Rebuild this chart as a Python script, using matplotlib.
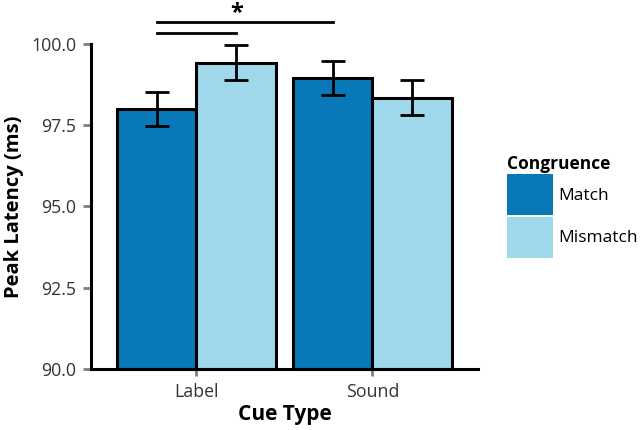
import matplotlib.pyplot as plt
import numpy as np
from matplotlib.patches import Patch

# data
cue_types = ["Label", "Sound"]
match_mean = [98.0, 98.95]
mismatch_mean = [99.42, 98.34]
match_err = [0.52, 0.52]
mismatch_err = [0.54, 0.54]
y_floor = 90.0

plt.rcParams['font.family'] = ['Open Sans', 'DejaVu Sans']

colors = {'Match': '#0878b8', 'Mismatch': '#9ed8ea'}
width = 0.45

fig = plt.figure(figsize=(6.4, 4.3), dpi=100)
ax = fig.add_axes([0.142, 0.142, 0.605, 0.756])

x = np.arange(len(cue_types))
ax.bar(x - width / 2, np.array(match_mean) - y_floor, width, bottom=y_floor,
       color=colors['Match'], edgecolor='black', linewidth=2.2, zorder=2)
ax.bar(x + width / 2, np.array(mismatch_mean) - y_floor, width, bottom=y_floor,
       color=colors['Mismatch'], edgecolor='black', linewidth=2.2, zorder=2)
ax.errorbar(x - width / 2, match_mean, yerr=match_err, fmt='none',
            ecolor='black', elinewidth=2, capsize=8.5, capthick=2, zorder=3)
ax.errorbar(x + width / 2, mismatch_mean, yerr=mismatch_err, fmt='none',
            ecolor='black', elinewidth=2, capsize=8.5, capthick=2, zorder=3)

# significance markers
ax.plot([x[0] - width / 2, x[1] - width / 2], [100.68, 100.68], color='black',
        lw=2, clip_on=False)
ax.plot([x[0] - width / 2, x[0] + width / 2], [100.34, 100.34], color='black',
        lw=2, clip_on=False)
ax.text(0.23, 100.58, '*', ha='center', va='bottom', fontsize=17,
        fontweight='bold')

ax.set_ylim(90, 100)
ax.set_xlim(-0.6, 1.6)
ax.set_yticks([90.0, 92.5, 95.0, 97.5, 100.0])
ax.set_yticklabels(['90.0', '92.5', '95.0', '97.5', '100.0'])
ax.set_xticks(x)
ax.set_xticklabels(cue_types)
ax.tick_params(axis='both', colors='#7f7f7f', width=2, length=5.5,
               labelsize=12.8, labelcolor='#333333')
ax.tick_params(axis='y', pad=5)
ax.tick_params(axis='x', length=5, pad=5)

for side in ['top', 'right']:
    ax.spines[side].set_visible(False)
for side in ['left', 'bottom']:
    ax.spines[side].set_linewidth(2.2)
    ax.spines[side].set_color('black')

for p in ax.patches:
    p.set_clip_on(False)

ax.set_xlabel('Cue Type', fontsize=15, fontweight='bold', labelpad=2)
ax.set_ylabel('Peak Latency (ms)', fontsize=14.5, fontweight='bold', labelpad=5)

handles = [Patch(facecolor=colors['Match'], edgecolor='none'),
           Patch(facecolor=colors['Mismatch'], edgecolor='none')]
fig.legend(handles, ['Match', 'Mismatch'], title='Congruence',
           loc='center left', bbox_to_anchor=(0.782, 0.52), frameon=False,
           fontsize=12.5, title_fontproperties={'weight': 'bold', 'size': 12.5},
           handlelength=2.6, handleheight=3.3, handletextpad=0.35,
           labelspacing=0.08, alignment='left', borderaxespad=0)

fig.savefig('out.png', dpi=100)
